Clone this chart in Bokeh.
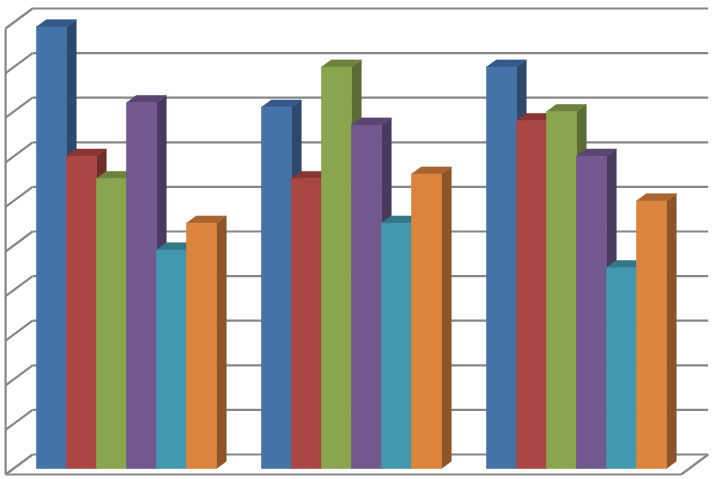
from bokeh.plotting import figure
from bokeh.models import ColumnDataSource, Range1d
from bokeh.embed import file_html
from bokeh.resources import INLINE

# ---------------- data ----------------
groups = ["Group 1", "Group 2", "Group 3"]
series_names = ["Series 1", "Series 2", "Series 3", "Series 4", "Series 5", "Series 6"]
series_1 = [9.9, 8.1, 9.0]
series_2 = [7.0, 6.5, 7.8]
series_3 = [6.5, 9.0, 8.0]
series_4 = [8.2, 7.7, 7.0]
series_5 = [4.9, 5.5, 4.5]
series_6 = [5.5, 6.6, 6.0]
gridline_values = list(range(0, 11))

all_series = [series_1, series_2, series_3, series_4, series_5, series_6]

# ---------------- style ----------------
front_colors = ["#4572A7", "#AA4643", "#89A54E", "#71588F", "#4198AF", "#DB843D"]
side_colors = ["#2D4A6E", "#6F2D2B", "#5A6C33", "#4A3A5E", "#2A6372", "#8C5427"]
top_colors = ["#35598A", "#873634", "#6C823D", "#5A4572", "#337889", "#A9652F"]
grid_color = "#868686"

BAR_W = 1.0
GROUP_STEP = 7.5
DEPTH_X = 0.9      # oblique shift of full floor depth (x units)
DEPTH_Y = 0.4484   # oblique shift of full floor depth (value units)
Z1, Z2 = 0.30, 0.66  # bar front/back depth (0 = floor front, 1 = back wall)
PAD = 0.76
n_series = len(all_series)

# pixel scale of the view
W, H = 712, 477
PX_PER_X = 30.0
PX_PER_V = 44.6
ORIGIN_X_PX = 126.0   # first group centre
ORIGIN_Y_PX = 468.0   # bar baseline


def proj(x, v, z):
    return x + (z - Z1) * DEPTH_X, v + (z - Z1) * DEPTH_Y


# ---------------- bars as polygons (painter's order) ----------------
pxs, pys, pcol = [], [], []
for g in range(len(groups)):
    for i, vals in enumerate(all_series):
        v = vals[g]
        left = g * GROUP_STEP + (i - n_series / 2) * BAR_W
        right = left + BAR_W
        # side
        pts = [proj(right, 0, Z1), proj(right, 0, Z2), proj(right, v, Z2), proj(right, v, Z1)]
        pxs.append([p[0] for p in pts]); pys.append([p[1] for p in pts]); pcol.append(side_colors[i])
        # top
        pts = [proj(left, v, Z1), proj(right, v, Z1), proj(right, v, Z2), proj(left, v, Z2)]
        pxs.append([p[0] for p in pts]); pys.append([p[1] for p in pts]); pcol.append(top_colors[i])
        # front
        pts = [proj(left, 0, Z1), proj(right, 0, Z1), proj(right, v, Z1), proj(left, v, Z1)]
        pxs.append([p[0] for p in pts]); pys.append([p[1] for p in pts]); pcol.append(front_colors[i])

bars_src = ColumnDataSource(dict(xs=pxs, ys=pys, color=pcol))

# ---------------- walls / gridlines ----------------
xmin = -n_series / 2 * BAR_W - PAD
xmax = (len(groups) - 1) * GROUP_STEP + n_series / 2 * BAR_W + PAD
vmax = gridline_values[-1]

lxs, lys = [], []


def seg(a, b):
    lxs.append([a[0], b[0]])
    lys.append([a[1], b[1]])


for k in gridline_values:
    seg(proj(xmin, k, 1), proj(xmax, k, 1))   # back wall gridline
    seg(proj(xmin, k, 0), proj(xmin, k, 1))   # side wall diagonal
seg(proj(xmin, 0, 0), proj(xmin, vmax, 0))    # side wall front edge
seg(proj(xmin, 0, 0), proj(xmax, 0, 0))       # floor front edge
seg(proj(xmax, 0, 0), proj(xmax, 0, 1))       # floor right edge

lines_src = ColumnDataSource(dict(xs=lxs, ys=lys))

# ---------------- ranges ----------------
x_range = Range1d(-ORIGIN_X_PX / PX_PER_X, (W - ORIGIN_X_PX) / PX_PER_X)
y_range = Range1d((ORIGIN_Y_PX - H) / PX_PER_V, ORIGIN_Y_PX / PX_PER_V)

p = figure(width=W, height=H, output_backend="svg", toolbar_location=None,
           x_range=x_range, y_range=y_range,
           x_axis_type=None, y_axis_type=None, min_border=0)
p.grid.visible = False
p.outline_line_color = None
p.background_fill_color = "white"
p.border_fill_color = "white"

p.multi_line("xs", "ys", source=lines_src, line_color=grid_color, line_width=2.2)
p.patches("xs", "ys", source=bars_src, fill_color="color", line_color="color", line_width=0.6)

open("out.html", "w").write(file_html(p, INLINE))
